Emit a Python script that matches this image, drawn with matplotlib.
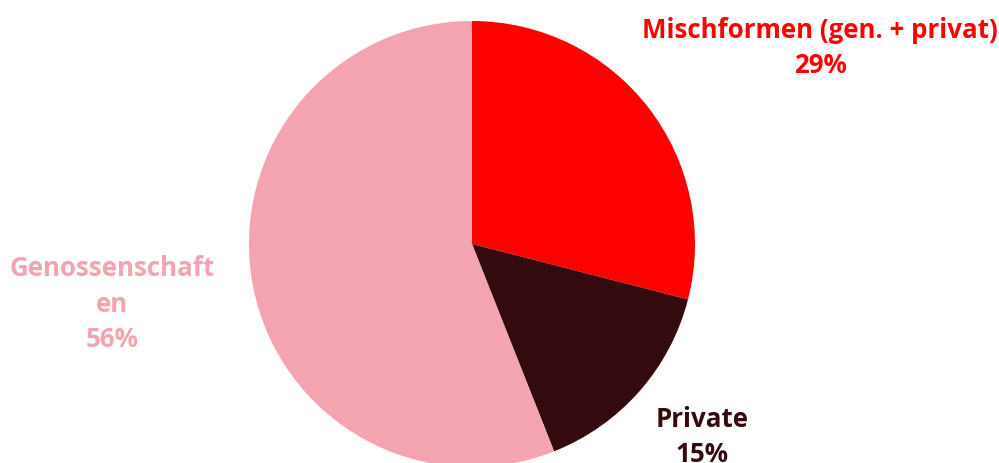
import matplotlib
matplotlib.use("Agg")
import matplotlib.pyplot as plt

labels = ["Mischformen (gen. + privat)", "Private", "Genossenschaft\nen"]
values = [29, 15, 56]
colors = ["#FF0000", "#330A0E", "#F4A3B1"]

W, H = 999, 464
fig = plt.figure(figsize=(W / 100, H / 100), dpi=100)
ax = fig.add_axes([0, 0, 1, 1])

cx, cy, r = 472, H - 245, 223
ax.pie(values, colors=colors, startangle=90, counterclock=False,
       center=(cx, cy), radius=r, frame=True,
       wedgeprops=dict(linewidth=0))
ax.set_xlim(0, W)
ax.set_ylim(0, H)
ax.set_aspect("equal")
ax.axis("off")

font = dict(family=["Open Sans", "DejaVu Sans"], fontweight="bold", fontsize=18.6,
            ha="center", va="center", linespacing=1.42)
pos = [(820, H - 48), (702, H - 437), (112, H - 304)]
for lab, v, c, (x, y) in zip(labels, values, colors, pos):
    ax.text(x, y, f"{lab}\n{v}%", color=c, **font)

fig.savefig("out.png", dpi=100)
